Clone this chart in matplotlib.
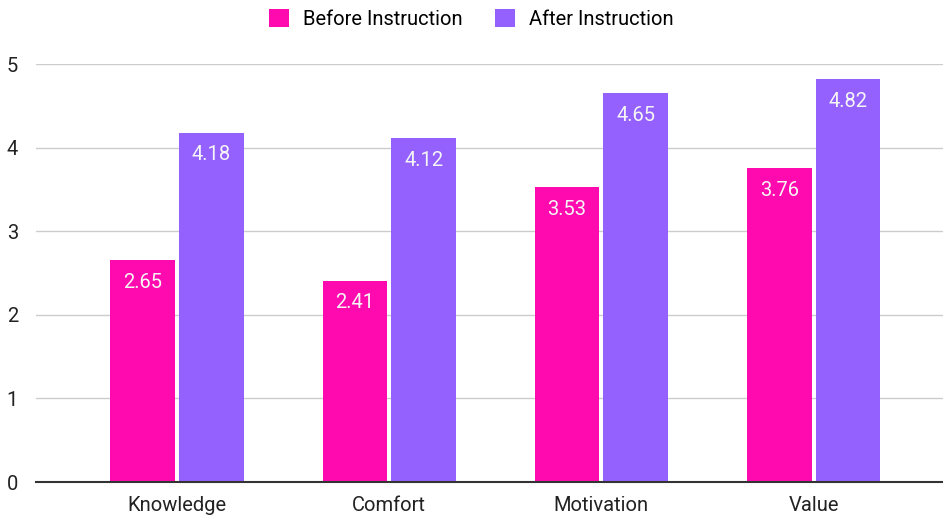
import matplotlib
matplotlib.use("Agg")
from matplotlib import pyplot as plt
import numpy as np

categories = ["Knowledge", "Comfort", "Motivation", "Value"]
before = [2.65, 2.41, 3.53, 3.76]
after = [4.18, 4.12, 4.65, 4.82]

plt.rcParams['font.family'] = ['Roboto', 'DejaVu Sans']

fig = plt.figure(figsize=(9.43, 5.17), dpi=100)
ax = fig.add_axes([36/943, 35/517, 907/943, 418/517])

x = np.arange(len(categories))
w = 0.305
off = 0.162
b1 = ax.bar(x - off, before, w, color='#ff0aaf', label='Before Instruction', zorder=3)
b2 = ax.bar(x + off, after, w, color='#9461ff', label='After Instruction', zorder=3)

for bars in (b1, b2):
    ax.bar_label(bars, labels=[f"{v:.2f}" for v in bars.datavalues],
                 padding=-23, color='#f5f5f5', fontsize=14.5)

ax.set_ylim(0, 5)
ax.set_xlim(-0.665, 3.61)
ax.set_yticks([0, 1, 2, 3, 4, 5])
ax.set_xticks(x)
ax.set_xticklabels(categories)
ax.tick_params(axis='both', length=0, labelsize=14.5, colors='#222222')
ax.tick_params(axis='y', pad=13)
ax.tick_params(axis='x', pad=10)
ax.grid(axis='y', color='#cccccc', linewidth=1, zorder=0)
for s in ['top', 'right', 'left']:
    ax.spines[s].set_visible(False)
ax.spines['bottom'].set_color('#333333')
ax.spines['bottom'].set_linewidth(1.5)
ax.spines['bottom'].set_zorder(4)

fig.legend(handles=[b1, b2], loc='upper center', bbox_to_anchor=(0.5, 1.018),
           ncol=2, frameon=False, fontsize=14.5, handlelength=1.0,
           handleheight=1.0, handletextpad=0.7, columnspacing=1.6)

fig.savefig("out.png", dpi=100)
